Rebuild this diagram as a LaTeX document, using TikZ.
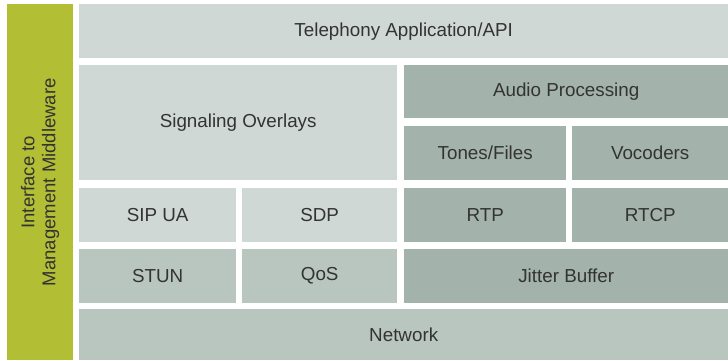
\documentclass[tikz,border=0pt]{standalone}
\usepackage{fontspec}
\setmainfont{Liberation Sans}
\definecolor{mwgreen}{HTML}{B2BE34}
\definecolor{lightbox}{HTML}{CFD8D4}
\definecolor{midbox}{HTML}{B9C6C0}
\definecolor{darkbox}{HTML}{A3B3AB}
\definecolor{labeltext}{HTML}{333333}
\tikzset{
  layer/.style={rectangle, inner sep=0pt, anchor=north west, text=labeltext,
    font=\fontsize{18.8}{21}\selectfont},
}
\begin{document}
\begin{tikzpicture}[x=1pt, y=-1pt]
    \useasboundingbox (0,0) rectangle (728,360);
    % management side bar
    \node[layer, fill=mwgreen, minimum width=66pt, minimum height=356pt] (mgmt) at (7,4) {};
    \node[rotate=90, align=center, text=labeltext, font=\fontsize{18.5}{21}\selectfont] (mgmtlabel) at (mgmt.center) {Interface to\\Management Middleware};
    % top layer
    \node[layer, fill=lightbox, minimum width=649pt, minimum height=54pt] (api) at (79,4) {Telephony Application/API};
    % signaling side
    \node[layer, fill=lightbox, minimum width=318pt, minimum height=115pt] (sig) at (79,65) {Signaling Overlays};
    \node[layer, fill=lightbox, minimum width=157pt, minimum height=54pt] (sipua) at (79,188) {SIP UA};
    \node[layer, fill=lightbox, minimum width=155pt, minimum height=54pt] (sdp) at (242,188) {SDP};
    \node[layer, fill=midbox, minimum width=157pt, minimum height=54pt] (stun) at (79,249) {STUN};
    \node[layer, fill=midbox, minimum width=155pt, minimum height=54pt] (qos) at (242,249) {QoS};
    % media side
    \node[layer, fill=darkbox, minimum width=324pt, minimum height=53pt] (audio) at (404,65) {Audio Processing};
    \node[layer, fill=darkbox, minimum width=162pt, minimum height=54pt] (tones) at (404,126) {Tones/Files};
    \node[layer, fill=darkbox, minimum width=156pt, minimum height=54pt] (vocoders) at (572,126) {Vocoders};
    \node[layer, fill=darkbox, minimum width=162pt, minimum height=54pt] (rtp) at (404,188) {RTP};
    \node[layer, fill=darkbox, minimum width=156pt, minimum height=54pt] (rtcp) at (572,188) {RTCP};
    \node[layer, fill=darkbox, minimum width=324pt, minimum height=54pt] (jitter) at (404,249) {Jitter Buffer};
    % bottom layer
    \node[layer, fill=midbox, minimum width=649pt, minimum height=51pt] (network) at (79,309) {Network};
\end{tikzpicture}
\end{document}
